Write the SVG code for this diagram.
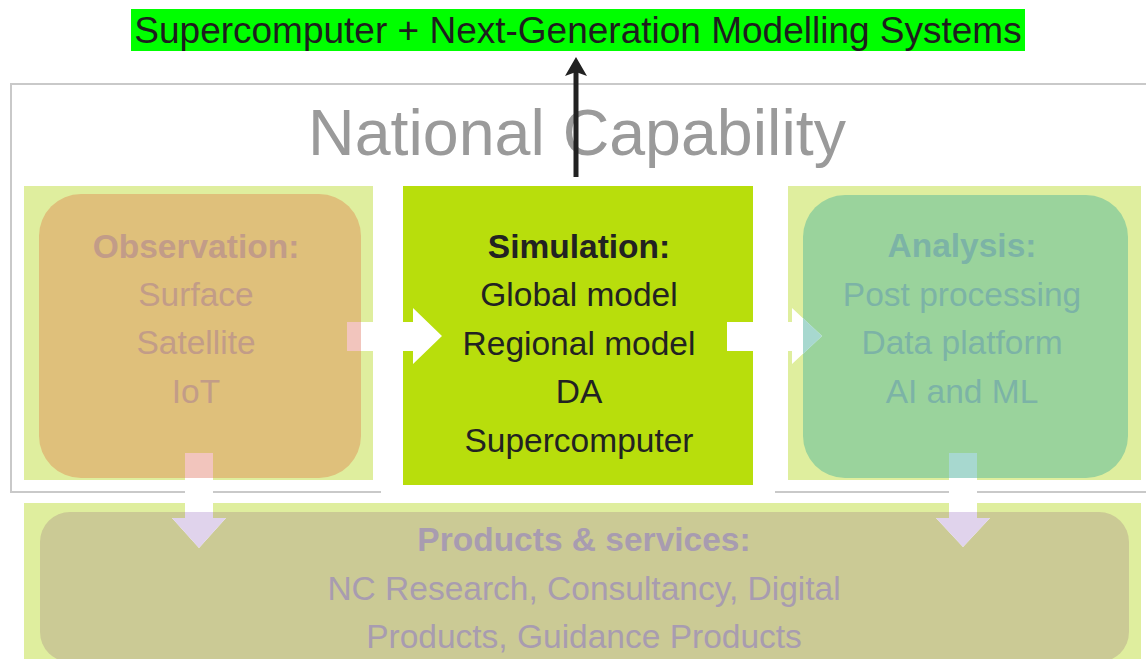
<svg xmlns="http://www.w3.org/2000/svg" width="1146" height="659" viewBox="0 0 1146 659">
<defs>
<style>
text{font-family:"Liberation Sans",Arial,sans-serif;text-anchor:middle}
.hd{font-weight:bold}
.t33{font-size:33.5px}
.panel{fill:#dfee9e}
.obs{fill:#c29c88}
.ana{fill:#7cb3a6}
.sim{fill:#222222}
.prd{fill:#a89cb0}
</style>
</defs>
<rect width="1146" height="659" fill="#ffffff"/>
<!-- frame -->
<g id="frame">
<rect x="11" y="84" width="1140" height="408" fill="#ffffff" stroke="#c9c9c9" stroke-width="2"/>
<rect x="381" y="178" width="394" height="318" fill="#ffffff"/>
<text x="577" y="155" font-size="64.5" fill="#9a9a9a">National Capability</text>
</g>
<!-- title -->
<g id="title">
<rect x="131" y="9" width="894" height="42" fill="#00ff00"/>
<text x="578" y="43" font-size="37" fill="#1e1e1e">Supercomputer + Next-Generation Modelling Systems</text>
</g>
<!-- observation -->
<g id="observation">
<rect class="panel" x="24" y="186" width="349" height="294"/>
<rect x="39" y="194" width="322" height="284" rx="42" fill="#dfc07b"/>
<text class="obs hd t33" x="196" y="258">Observation:</text>
<text class="obs t33" x="196" y="306">Surface</text>
<text class="obs t33" x="196" y="354">Satellite</text>
<text class="obs t33" x="196" y="403">IoT</text>
</g>
<!-- simulation -->
<g id="simulation">
<rect x="403" y="186" width="350" height="299" fill="#b8de0c"/>
<text class="sim hd t33" x="579" y="258">Simulation:</text>
<text class="sim t33" x="579" y="306">Global model</text>
<text class="sim t33" x="579" y="355">Regional model</text>
<text class="sim t33" x="579" y="403">DA</text>
<text class="sim t33" x="579" y="452">Supercomputer</text>
</g>
<!-- analysis -->
<g id="analysis">
<rect class="panel" x="788" y="186" width="353" height="294"/>
<rect x="803" y="195" width="325" height="283" rx="42" fill="#9ad39c"/>
<text class="ana hd t33" x="962" y="257">Analysis:</text>
<text class="ana t33" x="962" y="306">Post processing</text>
<text class="ana t33" x="962" y="354">Data platform</text>
<text class="ana t33" x="962" y="403">AI and ML</text>
</g>
<!-- products -->
<g id="products">
<rect class="panel" x="24" y="503" width="1117" height="170"/>
<rect x="40" y="512" width="1089" height="150" rx="30" fill="#cbca95"/>
<text class="prd hd t33" x="584" y="551">Products &amp; services:</text>
<text class="prd t33" x="584" y="600">NC Research, Consultancy, Digital</text>
<text class="prd t33" x="584" y="648">Products, Guidance Products</text>
</g>
<!-- connectors -->
<g id="connectors">
<!-- observation -> simulation -->
<polygon points="347,322 413,322 413,308 442,336 413,364 413,351 347,351" fill="#ffffff"/>
<rect x="347" y="322" width="14" height="29" fill="#f2c5bd"/>
<!-- simulation -> analysis -->
<polygon points="727,322 792,322 792,308 822,336 792,364 792,351 727,351" fill="#ffffff"/>
<polygon points="803,318 822,336 803,354" fill="#a7d8cf"/>
<!-- observation -> products -->
<polygon points="185,453 213,453 213,518 226,518 199,548 172,518 185,518" fill="#ffffff"/>
<rect x="185" y="453" width="28" height="25" fill="#f2c5bd"/>
<polygon points="185,512 213,512 213,518 226,518 199,548 172,518 185,518" fill="#e0d3ec"/>
<!-- analysis -> products -->
<polygon points="949,453 977,453 977,518 990,518 963,547 936,518 949,518" fill="#ffffff"/>
<rect x="949" y="453" width="28" height="25" fill="#a7d8cf"/>
<polygon points="949,512 977,512 977,518 990,518 963,547 936,518 949,518" fill="#e0d3ec"/>
<!-- simulation -> title -->
<line x1="576" y1="177" x2="576" y2="72" stroke="#222222" stroke-width="5"/>
<polygon points="576,57 587,76 576,72 565,76" fill="#222222"/>
</g>
</svg>
